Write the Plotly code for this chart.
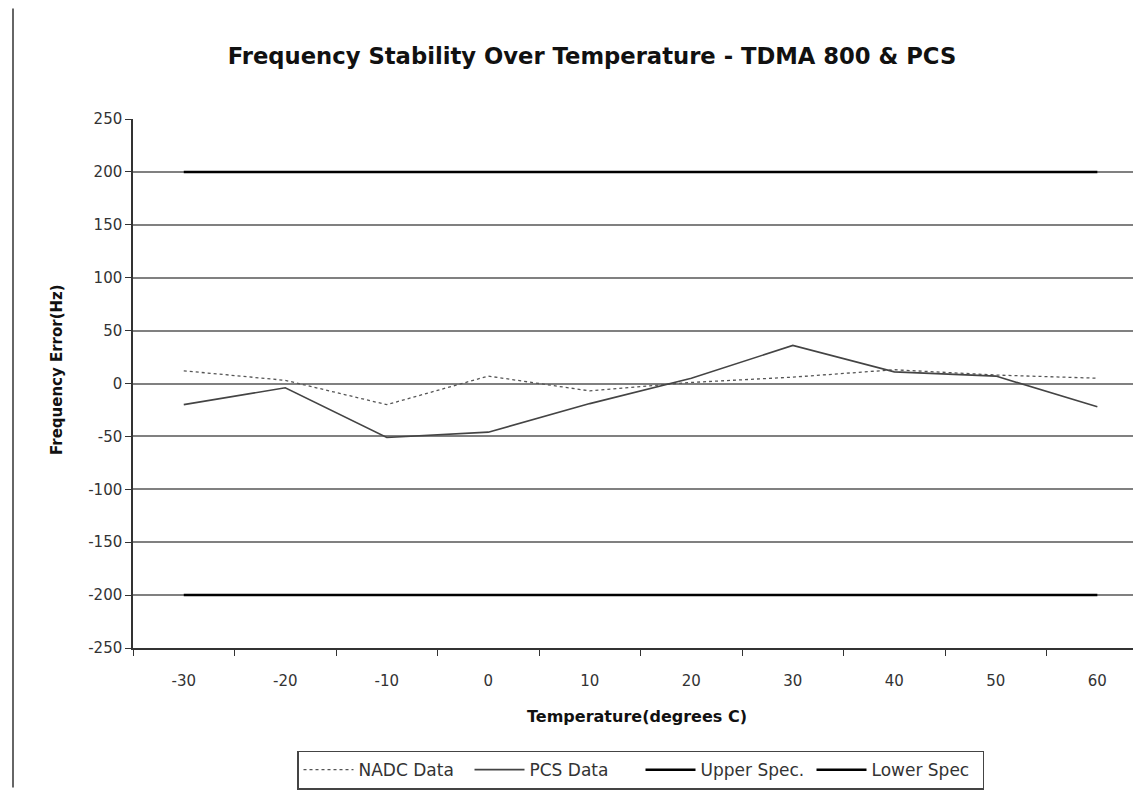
import plotly.graph_objects as go

temps = ["-30", "-20", "-10", "0", "10", "20", "30", "40", "50", "60"]
nadc = [12, 3, -20, 7, -7, 1, 6, 13, 8, 5]
pcs = [-20, -4, -51, -46, -19, 5, 36, 11, 7, -22]
upper = [200] * 10
lower = [-200] * 10
yticks = [250, 200, 150, 100, 50, 0, -50, -100, -150, -200, -250]

# page has an 8px body margin, so the figure is 8px smaller than the window
OFF = 8
W, H = 1141 - OFF, 790 - OFF
ML, MR, MT = 133 - OFF, 0, 119 - OFF
PLOT_BOTTOM = 650 - OFF
MB = H - PLOT_BOTTOM
pw = W - ML - MR
ph = H - MT - MB

font = "DejaVu Sans, Liberation Sans, Arial, sans-serif"

fig = go.Figure()
fig.add_trace(go.Scatter(x=temps, y=nadc, name="NADC Data", mode="lines",
                         line=dict(color="#555555", width=1.3, dash="dot")))
fig.add_trace(go.Scatter(x=temps, y=pcs, name="PCS Data", mode="lines",
                         line=dict(color="#444444", width=1.6)))
fig.add_trace(go.Scatter(x=temps, y=upper, name="Upper Spec.", mode="lines",
                         line=dict(color="#000000", width=2.5)))
fig.add_trace(go.Scatter(x=temps, y=lower, name="Lower Spec", mode="lines",
                         line=dict(color="#000000", width=2.5)))

fig.update_layout(
    width=W, height=H,
    margin=dict(l=ML, r=MR, t=MT, b=MB),
    paper_bgcolor="white", plot_bgcolor="white",
    font=dict(family=font, size=16, color="#222222"),
    title=dict(text="<b>Frequency Stability Over Temperature - TDMA 800 & PCS</b>",
               x=(592 - OFF) / W, xanchor="center", y=1 - (56 - OFF) / H, yanchor="middle",
               font=dict(size=22.7, color="#111111", family=font)),
    showlegend=True,
    legend=dict(orientation="h", x=((298 + 983) / 2 - OFF - ML) / pw, xanchor="center",
                y=-((753 - OFF) - PLOT_BOTTOM) / ph, yanchor="top",
                bordercolor="#444444", borderwidth=1.5,
                font=dict(size=17, family=font, color="#333333"),
                itemwidth=50, tracegroupgap=0,
                entrywidth=106, entrywidthmode="pixels"),
    annotations=[dict(text="<b>Frequency Error(Hz)</b>", textangle=-90,
                      xref="paper", yref="paper",
                      x=(57 - OFF - ML) / pw, y=1 - ((371 - OFF) - MT) / ph,
                      xanchor="center", yanchor="middle", showarrow=False,
                      font=dict(size=15, color="#111111", family=font))],
)
fig.update_xaxes(
    type="category", range=[-0.5, 9.43], showgrid=False,
    showline=True, linecolor="#333333", linewidth=1.5,
    ticks="outside", tickson="boundaries", ticklen=6, tickcolor="#333333",
    tickfont=dict(size=15, color="#333333"), ticklabelstandoff=18,
    title=dict(text="<b>Temperature(degrees C)</b>", font=dict(size=16, color="#111111"), standoff=22),
    zeroline=False, fixedrange=True,
)
fig.update_yaxes(
    range=[-250, 250], tickvals=yticks, ticktext=[str(v) for v in yticks],
    showgrid=True, gridcolor="#808080", gridwidth=1.8,
    showline=True, linecolor="#333333", linewidth=1.5,
    ticks="outside", ticklen=6, tickcolor="#333333",
    tickfont=dict(size=15, color="#333333"),
    zeroline=False, fixedrange=True,
)
fig.add_shape(type="line", xref="paper", yref="paper",
              x0=(13 - OFF - ML) / pw, x1=(13 - OFF - ML) / pw, y0=-MB / ph, y1=1 + MT / ph,
              line=dict(color="#333333", width=1.5))

fig.write_html("out.html")
